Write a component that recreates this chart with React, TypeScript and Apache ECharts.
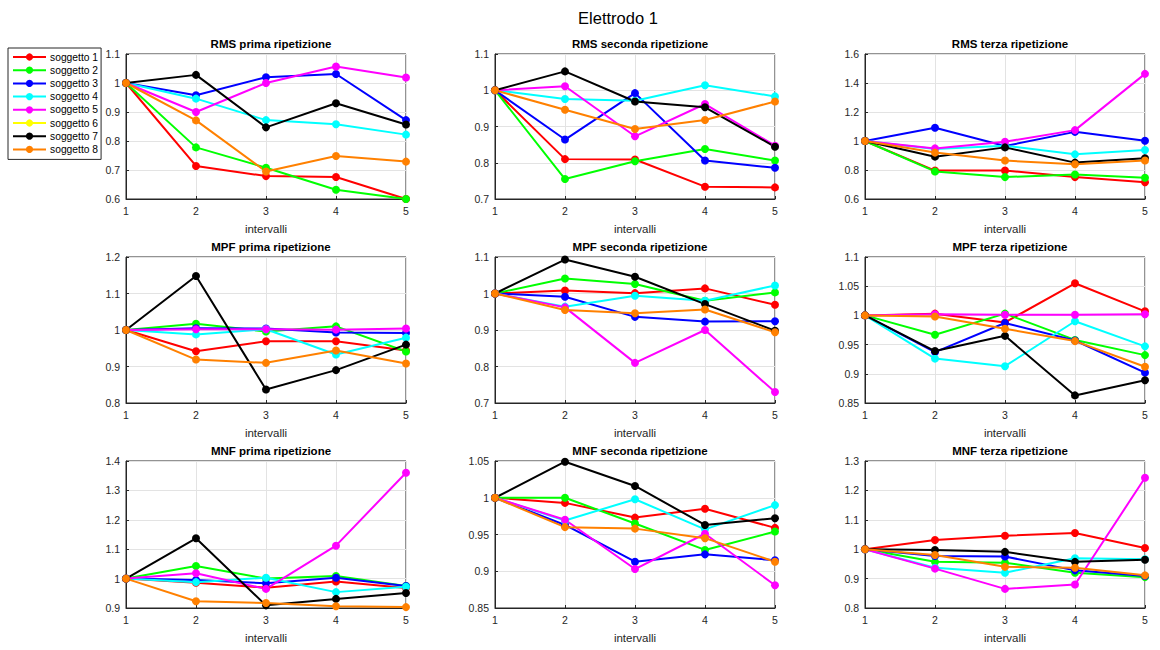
import React, { useEffect, useRef } from "react";
import * as echarts from "echarts";

const intervalli = [1, 2, 3, 4, 5];
const soggetti = ["soggetto 1", "soggetto 2", "soggetto 3", "soggetto 4", "soggetto 5", "soggetto 6", "soggetto 7", "soggetto 8"];
const colori = ["#ff0000", "#00ff00", "#0000ff", "#00ffff", "#ff00ff", "#ffff00", "#000000", "#ff8000"];
const vuoto: (number | null)[] = [null, null, null, null, null];

const rmsPrima = [
  [1, 0.714, 0.679, 0.676, 0.6],
  [1, 0.778, 0.708, 0.632, 0.6],
  [1, 0.958, 1.02, 1.031, 0.872],
  [1, 0.946, 0.872, 0.858, 0.822],
  [1, 0.9, 1.0, 1.057, 1.019],
  vuoto,
  [1, 1.028, 0.847, 0.93, 0.857],
  [1, 0.871, 0.695, 0.748, 0.729],
];
const rmsSeconda = [
  [1, 0.81, 0.809, 0.734, 0.732],
  [1, 0.755, 0.804, 0.838, 0.806],
  [1, 0.864, 0.992, 0.806, 0.786],
  [1, 0.976, 0.971, 1.014, 0.983],
  [1, 1.011, 0.873, 0.962, 0.847],
  vuoto,
  [1, 1.052, 0.969, 0.953, 0.844],
  [1, 0.946, 0.893, 0.918, 0.969],
];
const rmsTerza = [
  [1, 0.796, 0.796, 0.751, 0.716],
  [1, 0.79, 0.751, 0.769, 0.746],
  [1, 1.091, 0.965, 1.063, 1.002],
  [1, 0.945, 0.968, 0.908, 0.938],
  [1, 0.949, 0.995, 1.075, 1.463],
  vuoto,
  [1, 0.892, 0.956, 0.851, 0.881],
  [1, 0.92, 0.865, 0.84, 0.865],
];
const mpfPrima = [
  [1, 0.942, 0.969, 0.969, 0.944],
  [1, 1.017, 0.996, 1.01, 0.941],
  [1, 1.005, 1.004, 0.993, 0.992],
  [1, 0.988, 1.002, 0.933, 0.979],
  [1, 1.002, 1.002, 1.001, 1.004],
  vuoto,
  [1, 1.148, 0.837, 0.89, 0.96],
  [1, 0.919, 0.91, 0.944, 0.908],
];
const mpfSeconda = [
  [1, 1.008, 1.001, 1.014, 0.969],
  [1, 1.041, 1.026, 0.98, 1.003],
  [1, 0.991, 0.936, 0.923, 0.924],
  [1, 0.964, 0.994, 0.98, 1.022],
  [1, 0.962, 0.81, 0.9, 0.73],
  vuoto,
  [1, 1.093, 1.046, 0.971, 0.898],
  [1, 0.955, 0.946, 0.956, 0.894],
];
const mpfTerza = [
  [1, 1.003, 0.988, 1.055, 1.007],
  [1, 0.967, 1.003, 0.958, 0.932],
  [1, 0.937, 0.987, 0.957, 0.902],
  [1, 0.926, 0.913, 0.99, 0.947],
  [1, 1.002, 1.001, 1.001, 1.002],
  vuoto,
  [1, 0.939, 0.965, 0.863, 0.889],
  [1, 0.998, 0.977, 0.956, 0.912],
];
const mnfPrima = [
  [1, 0.986, 0.969, 0.99, 0.968],
  [1, 1.043, 1.0, 1.009, 0.975],
  [1, 0.995, 0.984, 1.003, 0.975],
  [1, 0.988, 1.003, 0.954, 0.972],
  [1, 1.018, 0.965, 1.112, 1.36],
  vuoto,
  [1, 1.137, 0.909, 0.931, 0.951],
  [1, 0.923, 0.917, 0.906, 0.903],
];
const mnfSeconda = [
  [1, 0.993, 0.973, 0.985, 0.959],
  [1, 1.0, 0.965, 0.929, 0.954],
  [1, 0.963, 0.913, 0.923, 0.915],
  [1, 0.969, 0.998, 0.957, 0.99],
  [1, 0.97, 0.903, 0.951, 0.881],
  vuoto,
  [1, 1.049, 1.016, 0.963, 0.972],
  [1, 0.96, 0.958, 0.945, 0.913],
];
const mnfTerza = [
  [1, 1.031, 1.046, 1.055, 1.004],
  [1, 0.957, 0.954, 0.92, 0.905],
  [1, 0.977, 0.975, 0.928, 0.909],
  [1, 0.937, 0.92, 0.969, 0.966],
  [1, 0.934, 0.865, 0.88, 1.243],
  vuoto,
  [1, 0.997, 0.991, 0.957, 0.964],
  [1, 0.98, 0.94, 0.937, 0.911],
];

const titoli = [
  "RMS prima ripetizione", "RMS seconda ripetizione", "RMS terza ripetizione",
  "MPF prima ripetizione", "MPF seconda ripetizione", "MPF terza ripetizione",
  "MNF prima ripetizione", "MNF seconda ripetizione", "MNF terza ripetizione",
];
const datiPannelli = [rmsPrima, rmsSeconda, rmsTerza, mpfPrima, mpfSeconda, mpfTerza, mnfPrima, mnfSeconda, mnfTerza];
const yMin = [0.6, 0.7, 0.6, 0.8, 0.7, 0.85, 0.9, 0.85, 0.8];
const yMax = [1.1, 1.1, 1.6, 1.2, 1.1, 1.1, 1.4, 1.05, 1.3];
const yStep = [0.1, 0.1, 0.2, 0.1, 0.1, 0.05, 0.1, 0.05, 0.1];

const FONT = "Liberation Sans, Arial, sans-serif";
const AX = "#262626";

export default function App() {
  const ref = useRef<HTMLDivElement>(null);
  useEffect(() => {
    if (!ref.current) return;
    const chart = echarts.init(ref.current, undefined, { renderer: "svg" });
    const lefts = [126, 495, 865];
    const tops = [54, 257, 461];
    const heights = [145, 146, 147];
    const W = 280;
    const grids: any[] = [];
    const xAxes: any[] = [];
    const yAxes: any[] = [];
    const titles: any[] = [
      {
        text: "Elettrodo 1",
        left: 613,
        top: 4,
        textAlign: "center",
        textStyle: { fontFamily: FONT, fontSize: 16.5, fontWeight: "normal", color: "#000" },
      },
    ];
    const series: any[] = [];
    for (let p = 0; p < 9; p++) {
      const r = Math.floor(p / 3);
      const c = p % 3;
      grids.push({
        left: lefts[c],
        top: tops[r],
        width: W,
        height: heights[r],
        show: true,
        borderColor: AX,
        borderWidth: 1,
        backgroundColor: "#fff",
      });
      xAxes.push({
        type: "value",
        gridIndex: p,
        min: 1,
        max: 5,
        interval: 1,
        name: "intervalli",
        nameLocation: "middle",
        nameGap: 24,
        nameTextStyle: { fontFamily: FONT, fontSize: 11.5, color: AX },
        axisLine: { show: true, lineStyle: { color: AX } },
        axisTick: { show: true, inside: true, length: 3, lineStyle: { color: AX } },
        axisLabel: { fontFamily: FONT, fontSize: 10.5, color: AX, margin: 6 },
        splitLine: { show: true, lineStyle: { color: "#e3e3e3" } },
      });
      yAxes.push({
        type: "value",
        gridIndex: p,
        min: yMin[p],
        max: yMax[p],
        interval: yStep[p],
        axisLine: { show: true, lineStyle: { color: AX } },
        axisTick: { show: true, inside: true, length: 3, lineStyle: { color: AX } },
        axisLabel: { fontFamily: FONT, fontSize: 10.5, color: AX, margin: 6 },
        splitLine: { show: true, lineStyle: { color: "#e3e3e3" } },
      });
      titles.push({
        text: titoli[p],
        left: lefts[c] + W / 2,
        top: tops[r] - 21,
        textAlign: "center",
        textStyle: { fontFamily: FONT, fontSize: 11.5, fontWeight: "bold", color: "#000" },
      });
      datiPannelli[p].forEach((vals, s) => {
        series.push({
          type: "line",
          name: soggetti[s],
          xAxisIndex: p,
          yAxisIndex: p,
          data: intervalli.map((x, i) => [x, vals[i]]),
          symbol: "circle",
          symbolSize: 8,
          showSymbol: true,
          color: colori[s],
          lineStyle: { width: 2, color: colori[s] },
          itemStyle: { color: colori[s] },
          emphasis: { disabled: true },
        });
      });
    }
    chart.setOption({
      animation: false,
      backgroundColor: "#fff",
      title: titles,
      grid: grids,
      xAxis: xAxes,
      yAxis: yAxes,
      legend: {
        data: soggetti,
        orient: "vertical",
        left: 8,
        top: 48,
        itemWidth: 33,
        itemHeight: 9,
        itemGap: 3.2,
        padding: [4, 3, 5, 4],
        borderColor: AX,
        borderWidth: 1,
        backgroundColor: "#fff",
        textStyle: { fontFamily: FONT, fontSize: 10.3, color: "#000", padding: [0, 0, 0, -1] },
      },
      series,
    });
    return () => chart.dispose();
  }, []);
  return (
    <div
      ref={ref}
      style={{ position: "fixed", left: 0, top: 0, width: 1160, height: 650, background: "#fff" }}
    />
  );
}
